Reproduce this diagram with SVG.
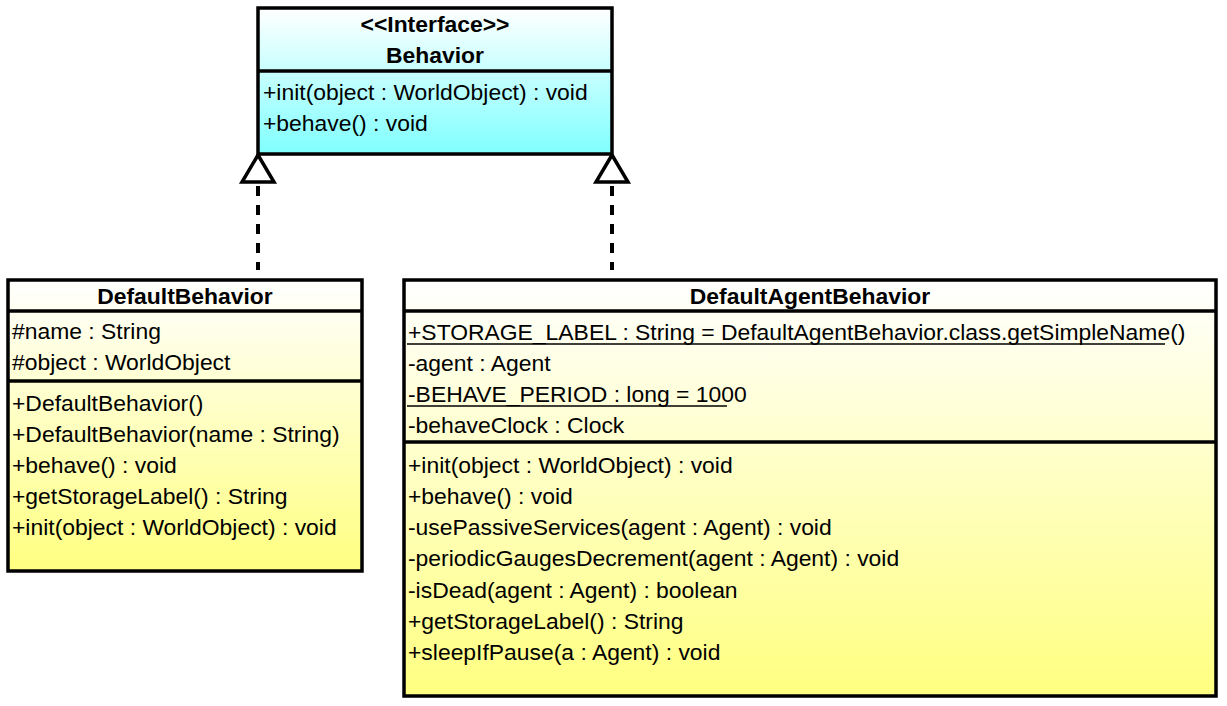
<svg xmlns="http://www.w3.org/2000/svg" width="1227" height="706" viewBox="0 0 1227 706">
<style>
.box{stroke:#000;stroke-width:3.5}
.div{stroke:#000;stroke-width:3.5}
.t{font-family:"Liberation Sans",Arial,sans-serif;font-size:22.9px;fill:#000}
.b{font-family:"Liberation Sans",Arial,sans-serif;font-size:22.9px;font-weight:bold;fill:#000;text-anchor:middle}
.ul{stroke:#000;stroke-width:1.5}
.dash{stroke:#000;stroke-width:4;stroke-dasharray:10 9;fill:none}
.tri{fill:#fff;stroke:#000;stroke-width:3.5;stroke-linejoin:miter}
</style>
<defs>
<linearGradient id="gc" x1="0" y1="0" x2="0" y2="1"><stop offset="0" stop-color="#ffffff"/><stop offset="1" stop-color="#80ffff"/></linearGradient>
<linearGradient id="gy" x1="0" y1="0" x2="0" y2="1"><stop offset="0" stop-color="#ffffff"/><stop offset="1" stop-color="#ffff80"/></linearGradient>
</defs>
<rect width="1227" height="706" fill="#fff"/>
<g id="connectors">
<line class="dash" x1="258" y1="186" x2="258" y2="270"/>
<line class="dash" x1="612" y1="186" x2="612" y2="270"/>
<polygon class="tri" points="258,155 242,182 274,182"/>
<polygon class="tri" points="612,155 596,182 628,182"/>
</g>
<g id="Behavior">
<rect class="box" x="258" y="8" width="354" height="146" fill="url(#gc)"/>
<line class="div" x1="258" y1="71" x2="612" y2="71"/>
<text class="b" x="435" y="32">&lt;&lt;Interface&gt;&gt;</text>
<text class="b" x="435" y="63">Behavior</text>
<text class="t" x="263" y="100">+init(object : WorldObject) : void</text>
<text class="t" x="263" y="131">+behave() : void</text>
</g>
<g id="DefaultBehavior">
<rect class="box" x="8" y="280" width="354" height="291" fill="url(#gy)"/>
<line class="div" x1="8" y1="311" x2="362" y2="311"/>
<line class="div" x1="8" y1="381" x2="362" y2="381"/>
<text class="b" x="185" y="304">DefaultBehavior</text>
<text class="t" x="12" y="339">#name : String</text>
<text class="t" x="12" y="370">#object : WorldObject</text>
<text class="t" x="12" y="411">+DefaultBehavior()</text>
<text class="t" x="12" y="442">+DefaultBehavior(name : String)</text>
<text class="t" x="12" y="473">+behave() : void</text>
<text class="t" x="12" y="504">+getStorageLabel() : String</text>
<text class="t" x="12" y="535">+init(object : WorldObject) : void</text>
</g>
<g id="DefaultAgentBehavior">
<rect class="box" x="404" y="280" width="812" height="416" fill="url(#gy)"/>
<line class="div" x1="404" y1="311" x2="1216" y2="311"/>
<line class="div" x1="404" y1="442" x2="1216" y2="442"/>
<text class="b" x="810" y="304">DefaultAgentBehavior</text>
<text class="t" x="408" y="340">+STORAGE_LABEL : String = DefaultAgentBehavior.class.getSimpleName()</text>
<line class="ul" x1="407" y1="344" x2="1165" y2="344"/>
<text class="t" x="408" y="371">-agent : Agent</text>
<text class="t" x="408" y="402">-BEHAVE_PERIOD : long = 1000</text>
<line class="ul" x1="407" y1="406" x2="727" y2="406"/>
<text class="t" x="408" y="433">-behaveClock : Clock</text>
<text class="t" x="408" y="473">+init(object : WorldObject) : void</text>
<text class="t" x="408" y="504">+behave() : void</text>
<text class="t" x="408" y="535">-usePassiveServices(agent : Agent) : void</text>
<text class="t" x="408" y="566">-periodicGaugesDecrement(agent : Agent) : void</text>
<text class="t" x="408" y="598">-isDead(agent : Agent) : boolean</text>
<text class="t" x="408" y="629">+getStorageLabel() : String</text>
<text class="t" x="408" y="660">+sleepIfPause(a : Agent) : void</text>
</g>
</svg>
